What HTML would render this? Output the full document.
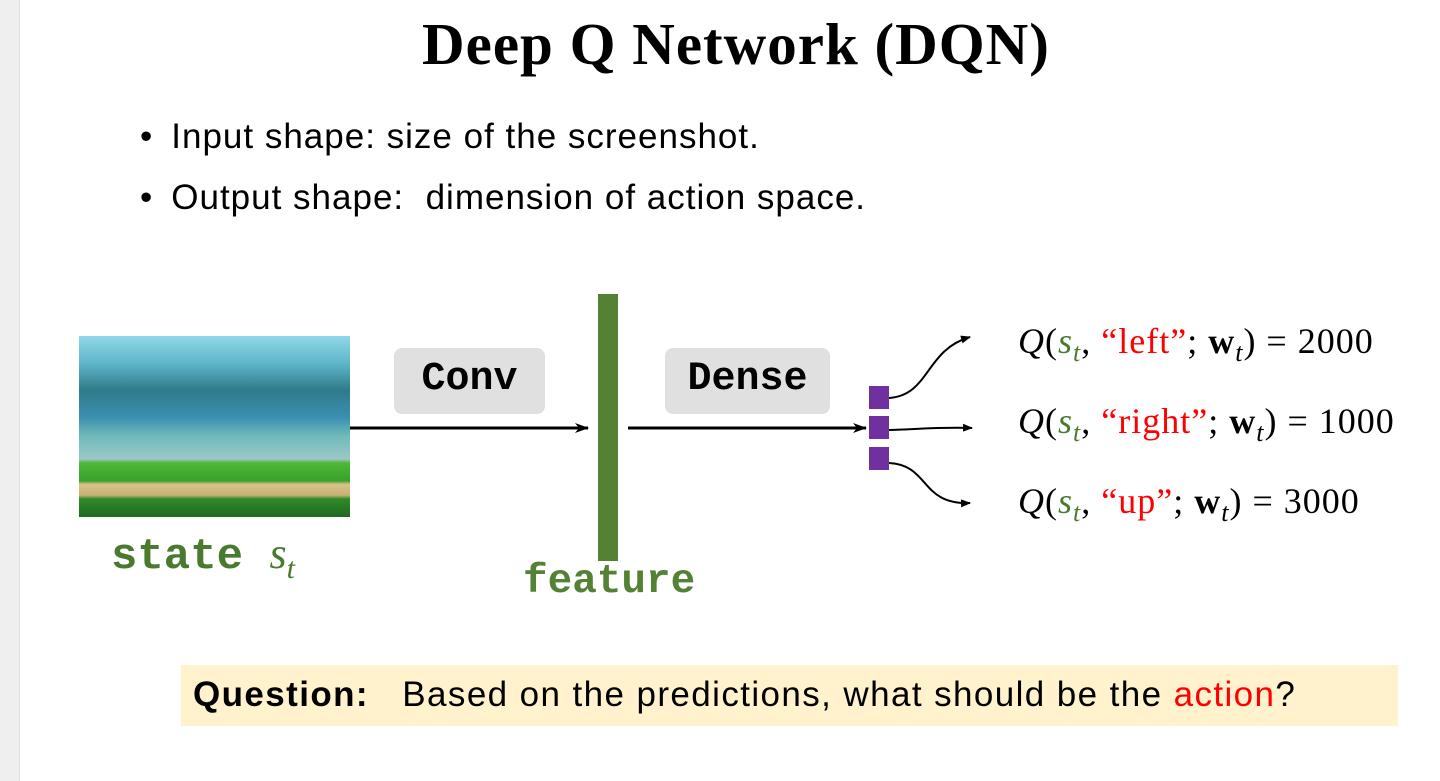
<!DOCTYPE html>
<html><head><meta charset="utf-8"><style>
body{margin:0;width:1440px;height:781px;background:#fff;position:relative;overflow:hidden;font-family:"Liberation Sans",sans-serif}
.a{position:absolute;white-space:nowrap}
.mono{font-family:"Liberation Mono",monospace;font-weight:bold}
.serif{font-family:"Liberation Serif",serif}
.q{font-family:"Liberation Serif",serif;font-size:36px;letter-spacing:1px;color:#000}
.g{color:#4a7a2e;font-style:italic}.r{color:#f00}
.b{font-size:35px;letter-spacing:1px}
</style></head><body>
<div class="a" style="left:0;top:0;width:19px;height:781px;background:#efefef"></div>
<div class="a" style="left:19px;top:0;width:1px;height:781px;background:#e0e0e0"></div>
<div class="a serif" style="left:0;width:1472px;text-align:center;top:10px;font-size:59px;font-weight:bold;letter-spacing:1px">Deep Q Network (DQN)</div>
<div class="a b" style="left:140px;top:117px">•<span style="display:inline-block;width:18px"></span>Input shape: size of the screenshot.</div>
<div class="a b" style="left:140px;top:178px">•<span style="display:inline-block;width:18px"></span>Output shape:&nbsp; dimension of action space.</div>
<div class="a" style="left:79px;top:336px;width:271px;height:181px;background:linear-gradient(#8fd8ea 0%,#5fb6c8 15%,#2f7b8a 30%,#3b8fb0 45%,#6fb9b9 55%,#9cc8c8 68%,#4fb83a 70%,#3aa02a 80%,#d8c48a 82%,#c8b070 88%,#2f8a2a 90%,#1f6a20 100%)"></div>
<div class="a mono" style="left:111px;top:528px;font-size:44px;color:#4a7a2e">state <span class="serif" style="font-weight:normal;font-style:italic">s<sub style="font-size:30px">t</sub></span></div>
<div class="a" style="left:394px;top:348px;width:151px;height:66px;background:#e0e0e0;border-radius:8px"></div>
<div class="a mono" style="left:394px;top:357px;width:151px;text-align:center;font-size:40px">Conv</div>
<div class="a" style="left:665px;top:348px;width:165px;height:66px;background:#e0e0e0;border-radius:8px"></div>
<div class="a mono" style="left:665px;top:357px;width:165px;text-align:center;font-size:40px">Dense</div>
<div class="a" style="left:598px;top:294px;width:20px;height:267px;background:#548235"></div>
<div class="a mono" style="left:523px;top:559px;font-size:41px;color:#548235">feature</div>
<div class="a" style="left:869px;top:386px;width:20px;height:23px;background:#7030a0"></div>
<div class="a" style="left:869px;top:416px;width:20px;height:23px;background:#7030a0"></div>
<div class="a" style="left:869px;top:447px;width:20px;height:23px;background:#7030a0"></div>
<svg class="a" style="left:0;top:0" width="1440" height="781">
<defs><marker id="m" markerWidth="10" markerHeight="8" refX="9" refY="4" orient="auto" markerUnits="userSpaceOnUse"><path d="M0,0L10,4L0,8z"/></marker>
<marker id="s" markerWidth="14" markerHeight="10" refX="13" refY="5" orient="auto" markerUnits="userSpaceOnUse"><path d="M0,0L14,5L0,10L4,5z"/></marker></defs>
<g fill="none" stroke="#000">
<line x1="350" y1="428" x2="588" y2="428" stroke-width="3" marker-end="url(#s)"/>
<line x1="628" y1="428" x2="866" y2="428" stroke-width="3" marker-end="url(#s)"/>
<path d="M889,398 C930,395 925,350 970,337" stroke-width="2" marker-end="url(#m)"/>
<path d="M889,430 C920,429 940,427 972,428" stroke-width="2" marker-end="url(#m)"/>
<path d="M889,463 C930,465 920,505 970,503" stroke-width="2" marker-end="url(#m)"/>
</g></svg>
<div class="a q" style="left:1018px;top:320px"><i>Q</i>(<span class="g">s<sub style="font-size:26px">t</sub></span>, <span class="r">“left”</span>; <b>w</b><sub style="font-size:26px"><i>t</i></sub>) = 2000</div>
<div class="a q" style="left:1018px;top:400px"><i>Q</i>(<span class="g">s<sub style="font-size:26px">t</sub></span>, <span class="r">“right”</span>; <b>w</b><sub style="font-size:26px"><i>t</i></sub>) = 1000</div>
<div class="a q" style="left:1018px;top:480px"><i>Q</i>(<span class="g">s<sub style="font-size:26px">t</sub></span>, <span class="r">“up”</span>; <b>w</b><sub style="font-size:26px"><i>t</i></sub>) = 3000</div>
<div class="a" style="left:181px;top:665px;width:1217px;height:61px;background:#fff2cc"></div>
<div class="a b" style="left:193px;top:675px;letter-spacing:1.4px"><b>Question:</b>&nbsp;&nbsp; Based on the predictions, what should be the <span class="r">action</span>?</div>
</body></html>
